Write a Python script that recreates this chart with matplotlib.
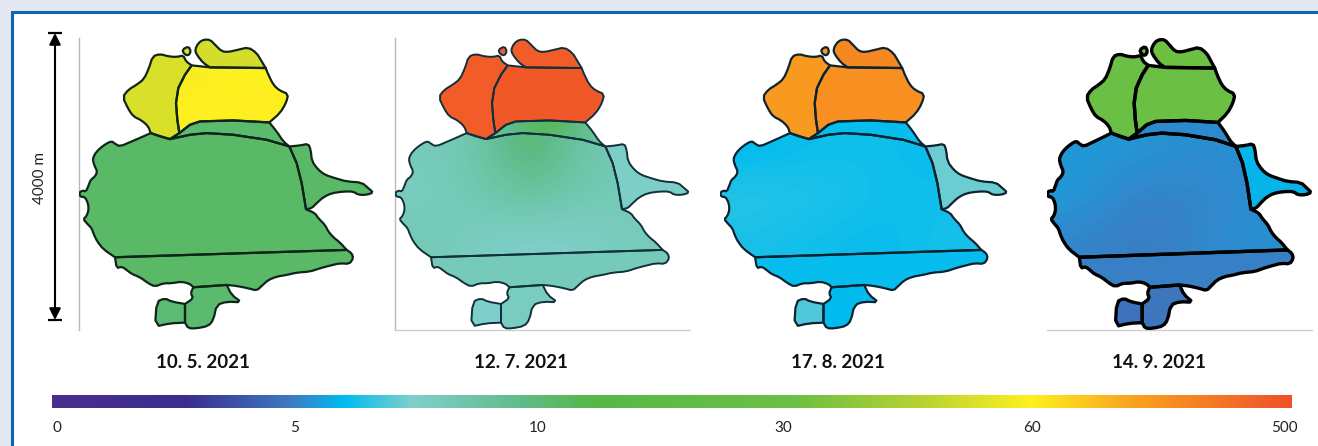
import numpy as np
import matplotlib
matplotlib.use("Agg")
import matplotlib.pyplot as plt
from matplotlib.colors import LinearSegmentedColormap
from matplotlib.patches import Polygon

W, H = 1318, 446

dates = ["10. 5. 2021", "12. 7. 2021", "17. 8. 2021", "14. 9. 2021"]
scale_ticks = [0, 5, 10, 30, 60, 500]
tick_pos = [0.004, 0.196, 0.392, 0.590, 0.790, 0.994]

# colour bar stops, position along the bar and colour
bar_stops = [0.0, 0.107, 0.19, 0.236, 0.29, 0.377, 0.434, 0.60, 0.70, 0.79, 0.87, 1.0]
bar_colors = ["#4b2e8f", "#3a2d8f", "#3f78c0", "#00bcf0", "#7fd0cc", "#60bc8a",
              "#56b848", "#6cc044", "#b5d233", "#fff01f", "#faa41f", "#f0502a"]

# map outlines, in map units
nw = [(452,400),(445,380),(425,362),(400,350),(385,328),(368,292),(385,270),(410,255),(432,238),(447,205),
      (458,170),(480,163),(505,170),(530,172),(550,167),(558,185),(575,197),(555,225),(535,265),(528,310),
      (532,360),(538,400),(510,418),(480,410)]
islet = [(547,150),(565,140),(573,155),(565,168),(552,163)]
north = [(590,165),(585,150),(595,130),(610,120),(630,120),(645,135),(665,155),(685,157),(715,150),(745,143),
         (770,160),(785,185),(797,205),(630,203),(610,190)]
middle = [(575,197),(630,203),(797,205),(805,225),(820,255),(838,272),(865,283),(858,310),(840,340),(808,368),
          (700,362),(600,365),(570,375),(538,400),(532,360),(528,310),(535,265),(555,225)]
band = [(510,418),(538,400),(570,375),(600,365),(700,362),(808,368),(830,395),(850,425),(868,440),(800,420),
        (700,405),(620,400),(570,405)]
main = [(510,418),(452,400),(425,412),(395,425),(360,440),(345,432),(335,424),(318,432),(298,447),(285,462),
        (278,478),(283,497),(292,515),(285,530),(272,540),(266,556),(258,575),(248,572),(238,578),(240,590),
        (255,592),(264,610),(266,630),(260,648),(250,658),(262,672),(275,685),(282,705),(292,725),(310,748),
        (345,772),(1040,750),(1020,728),(1000,712),(985,695),(975,675),(955,655),(945,640),(918,628),(905,550),
        (890,490),(868,440),(800,420),(700,405),(620,400),(570,405)]
east = [(868,440),(900,437),(925,432),(932,450),(936,485),(955,510),(975,525),(1005,535),(1040,545),(1085,548),
        (1105,565),(1120,578),(1100,585),(1075,585),(1060,575),(1030,575),(995,580),(970,592),(950,610),(935,625),
        (918,628),(905,550),(890,490)]
south = [(345,772),(1040,750),(1055,760),(1060,775),(1048,792),(1020,790),(990,797),(960,805),(930,815),(890,818),
         (860,825),(830,830),(805,840),(785,858),(770,872),(745,865),(710,858),(680,855),(580,862),(570,852),
         (545,845),(515,850),(490,850),(465,860),(445,850),(420,832),(395,822),(380,810),(365,800),(350,805)]
south2 = [(580,862),(680,855),(695,885),(725,907),(680,905),(650,915),(640,960),(625,978),(590,985),
          (565,985),(555,968),(555,912),(580,895),(572,880)]
south3 = [(470,905),(495,895),(515,905),(555,912),(555,968),(510,970),(465,980)]
regions = [nw, islet, north, middle, band, main, east, south, south2, south3]

# values per region, same order as regions
may = [53, 53, 52, [[58, 60, 60, 60], [60, 60, 64, 66], [60, 60, 62, 64]], 11, 11.5, 11.5, 11.5, 11, 10.5]
july = [470, 470, 470, 480, [[9, 16, 9], [9, 13, 9]],
        [[8, 8.3, 13, 8.4, 8.2], [7.8, 8.2, 9, 8.2, 8], [8.2, 7.8, 7.4, 7.6, 8]],
        7.6, 8, 7.8, 7.4]
august = [265, 265, 320, 300, 6.1, [[6, 6.2, 6.2, 6.1], [6.5, 6.4, 6.2, 6.2], [6.3, 6.2, 6.1, 6.3]], 7.2, 6.1, 6, 6.9]
september = [31, 31, 32, 31, 5.2, [[5.4, 5.4, 5.2, 5.3], [5.5, 5, 5.1, 5.2], [5.1, 4.9, 5.1, 5.3]], 5.9, 5, 4.8, 4.7]
panel_values = [may, july, august, september]

# panel left, right, line width, outline colour, edge rules
panels = [(79, 374, 1.6, "#10251a", True, False),
          (395, 690, 1.4, "#12303a", True, True),
          (720, 1008, 1.6, "#0d2430", False, False),
          (1047, 1312, 2.4, "#000000", False, True)]

cmap = LinearSegmentedColormap.from_list("bar", list(zip(bar_stops, bar_colors)), N=512)

# vertices used by more than one region stay put so the borders still meet
all_pts = [p for r in regions for p in r]
shared = {p for p in all_pts if all_pts.count(p) > 1}


def to_bar(v):
    return np.interp(v, scale_ticks, tick_pos)


def smooth(pts, rounds=1):
    # corner cutting so the coast does not look like straight segments
    pts = [np.array(p, dtype=float) for p in pts]
    for _ in range(rounds):
        out = []
        for i, p in enumerate(pts):
            if tuple(p) in shared:
                out.append(p)
            else:
                out.append(0.75 * p + 0.25 * pts[i - 1])
                out.append(0.75 * p + 0.25 * pts[(i + 1) % len(pts)])
        pts = out
    return np.array(pts)


plt.rcParams["font.family"] = ["Lato", "DejaVu Sans"]
fig = plt.figure(figsize=(W / 100, H / 100), dpi=100, facecolor="#e4e8f4")


def px_axes(left, top, right, bottom):
    return fig.add_axes([left / W, 1 - bottom / H, (right - left) / W, (bottom - top) / H])


# page background and frame
bg = px_axes(0, 0, W, H)
bg.set_xlim(0, W)
bg.set_ylim(H, 0)
bg.axis("off")
bg.add_patch(plt.Rectangle((11.5, 11.5), W, H, fc="white", ec="#0f64ad", lw=2.2))

# scale arrow
bg.annotate("", xy=(55, 33), xytext=(55, 320),
            arrowprops=dict(arrowstyle="<|-|>", color="black", lw=1.5, mutation_scale=17, shrinkA=0, shrinkB=0))
bg.hlines([33, 320], 48, 62, color="black", lw=1.6)
bg.text(40, 178, "4000 m", rotation=90, ha="center", va="center", fontsize=11, color="#222222")

for (left, right, lw, edge, rule_left, rule_bottom), values in zip(panels, panel_values):
    ax = px_axes(left, 38, right, 330)
    ax.axis("off")
    for outline, val in zip(regions, values):
        pts = smooth(outline)
        field = to_bar(np.atleast_2d(val))
        img = ax.imshow(field, cmap=cmap, vmin=0, vmax=1, interpolation="bicubic", aspect="auto", zorder=2,
                        extent=(pts[:, 0].min(), pts[:, 0].max(), pts[:, 1].max(), pts[:, 1].min()))
        img.set_clip_path(Polygon(pts, closed=True, transform=ax.transData))
        ax.add_patch(Polygon(pts, closed=True, fc="none", ec=edge, lw=lw, joinstyle="round", zorder=3))
    ax.set_xlim(237, 1122)
    ax.set_ylim(990, 115)
    if rule_left:
        ax.plot([237, 237], [115, 990], color="#b8b8b8", lw=1.0, clip_on=False, zorder=1)
    if rule_bottom:
        ax.plot([237, 1122], [990, 990], color="#cfcfcf", lw=1.0, clip_on=False, zorder=1)

for x, date in zip([203, 521, 838, 1159], dates):
    bg.text(x, 362, date, ha="center", va="center", fontsize=13.5, fontweight="bold", color="#111111")

# colour bar
cb = px_axes(52, 395, 1292, 408)
cb.imshow(np.linspace(0, 1, 1024)[None, :], cmap=cmap, aspect="auto", extent=(0, 1, 0, 1))
for side in cb.spines.values():
    side.set_visible(False)
cb.set_yticks([])
cb.set_xticks(tick_pos)
cb.set_xticklabels(scale_ticks, fontsize=11, color="#222222")
cb.tick_params(axis="x", length=0, pad=9)

fig.savefig("out.png", dpi=100, facecolor=fig.get_facecolor())
